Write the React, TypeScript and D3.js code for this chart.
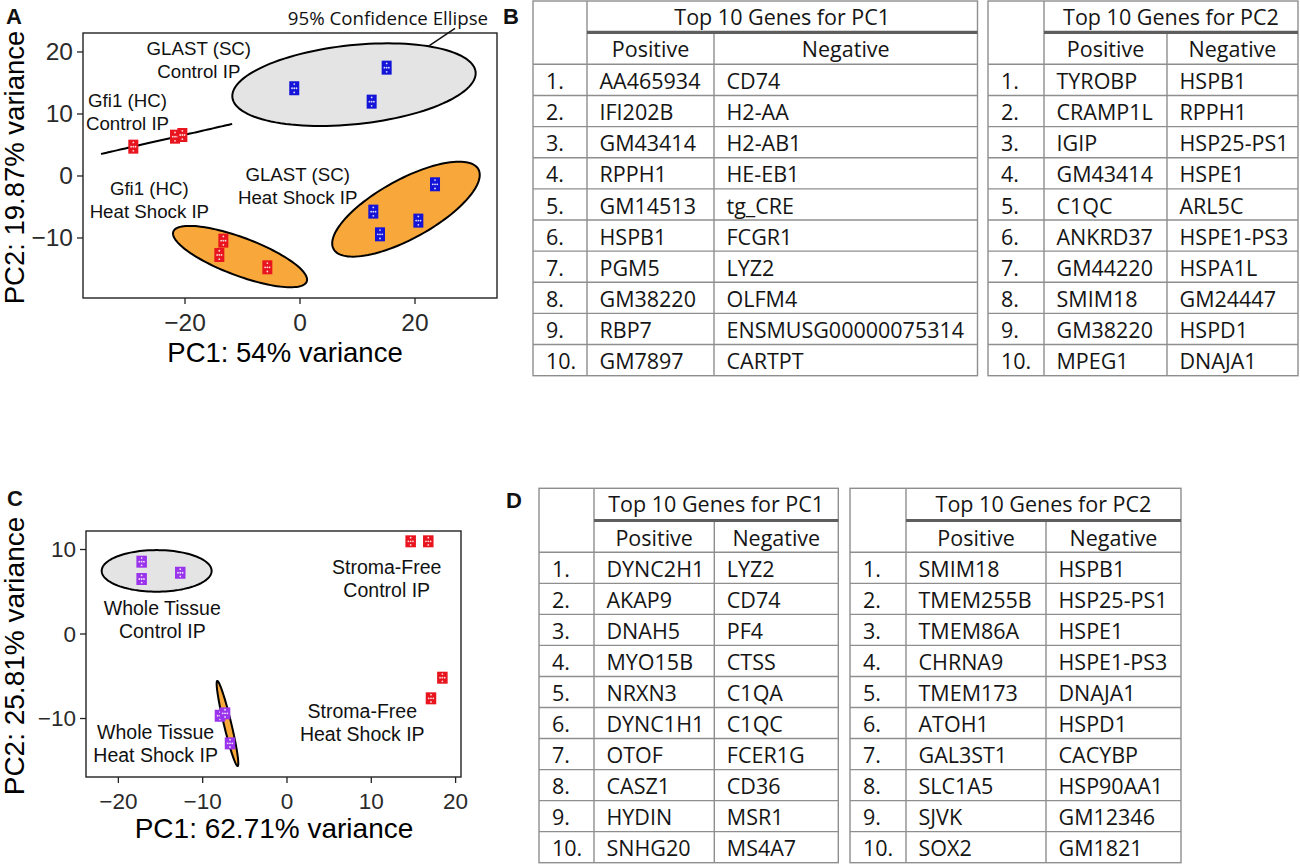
import React from "react";
import * as d3 from "d3";

// ---------- Panel A: PCA scores ----------
const pointsA = [
  { pc1: -1.0, pc2: 14.15, group: "glastCtrl" },
  { pc1: 15.07, pc2: 17.47, group: "glastCtrl" },
  { pc1: 12.46, pc2: 11.99, group: "glastCtrl" },
  { pc1: -28.99, pc2: 4.73, group: "gfiCtrl" },
  { pc1: -21.74, pc2: 6.34, group: "gfiCtrl" },
  { pc1: -20.46, pc2: 6.61, group: "gfiCtrl" },
  { pc1: -13.33, pc2: -10.43, group: "gfiHeat" },
  { pc1: -14.03, pc2: -12.74, group: "gfiHeat" },
  { pc1: -5.68, pc2: -14.73, group: "gfiHeat" },
  { pc1: 23.48, pc2: -1.34, group: "glastHeat" },
  { pc1: 12.75, pc2: -5.75, group: "glastHeat" },
  { pc1: 20.58, pc2: -7.2, group: "glastHeat" },
  { pc1: 13.91, pc2: -9.41, group: "glastHeat" },
];

// 95% confidence ellipses: centre + two semi-axis vectors, in data units
const ellipsesA = [
  { cx: 9.39, cy: 14.73, ax: 21.15, ay: 2.05, bx: 0.72, by: -6.34, kind: "control" },
  { cx: 18.43, cy: -5.35, ax: 12.59, ay: 6.44, bx: 2.47, by: -4.15, kind: "heat" },
  { cx: -10.43, cy: -13.0, ax: 11.6, ay: -4.03, bx: -1.16, by: -2.87, kind: "heat" },
  { cx: -23.2, cy: 5.97, ax: 11.4, ay: 2.42, bx: 0, by: 0, kind: "line" },
];

const labelsA = [
  { x: -17.6, y: 20.5, lines: ["GLAST (SC)", "Control IP"] },
  { x: -30.0, y: 12.1, lines: ["Gfi1 (HC)", "Control IP"] },
  { x: -26.2, y: -2.1, lines: ["Gfi1 (HC)", "Heat Shock IP"] },
  { x: -0.4, y: 0.16, lines: ["GLAST (SC)", "Heat Shock IP"] },
];

const xTicksA = [-20, 0, 20];
const yTicksA = [-10, 0, 10, 20];

// ---------- Panel C ----------
const pointsC = [
  { pc1: -17.24, pc2: 8.56, group: "wtCtrl" },
  { pc1: -17.24, pc2: 6.51, group: "wtCtrl" },
  { pc1: -12.66, pc2: 7.25, group: "wtCtrl" },
  { pc1: -7.95, pc2: -9.67, group: "wtHeat" },
  { pc1: -7.35, pc2: -9.39, group: "wtHeat" },
  { pc1: -6.76, pc2: -12.94, group: "wtHeat" },
  { pc1: 14.67, pc2: 10.97, group: "sfCtrl" },
  { pc1: 16.76, pc2: 10.97, group: "sfCtrl" },
  { pc1: 18.43, pc2: -5.17, group: "sfHeat" },
  { pc1: 17.08, pc2: -7.61, group: "sfHeat" },
];

const ellipsesC = [
  { cx: -15.46, cy: 7.47, ax: 6.52, ay: 0, bx: 0, by: 2.46, kind: "control" },
  { cx: -7.06, cy: -10.59, ax: 1.21, ay: -5.03, bx: 0.43, by: 0.1, kind: "heat" },
];

const labelsC = [
  { x: 11.83, y: 7.89, lines: ["Stroma-Free", "Control IP"] },
  { x: -14.79, y: 3.04, lines: ["Whole Tissue", "Control IP"] },
  { x: -15.58, y: -11.63, lines: ["Whole Tissue", "Heat Shock IP"] },
  { x: 8.93, y: -9.08, lines: ["Stroma-Free", "Heat Shock IP"] },
];

const xTicksC = [-20, -10, 0, 10, 20];
const yTicksC = [-10, 0, 10];

// ---------- Tables ----------
const rankLabels = ["1.", "2.", "3.", "4.", "5.", "6.", "7.", "8.", "9.", "10."];

const b1Positive = ["AA465934", "IFI202B", "GM43414", "RPPH1", "GM14513", "HSPB1", "PGM5", "GM38220", "RBP7", "GM7897"];
const b1Negative = ["CD74", "H2-AA", "H2-AB1", "HE-EB1", "tg_CRE", "FCGR1", "LYZ2", "OLFM4", "ENSMUSG00000075314", "CARTPT"];
const b2Positive = ["TYROBP", "CRAMP1L", "IGIP", "GM43414", "C1QC", "ANKRD37", "GM44220", "SMIM18", "GM38220", "MPEG1"];
const b2Negative = ["HSPB1", "RPPH1", "HSP25-PS1", "HSPE1", "ARL5C", "HSPE1-PS3", "HSPA1L", "GM24447", "HSPD1", "DNAJA1"];

const d1Positive = ["DYNC2H1", "AKAP9", "DNAH5", "MYO15B", "NRXN3", "DYNC1H1", "OTOF", "CASZ1", "HYDIN", "SNHG20"];
const d1Negative = ["LYZ2", "CD74", "PF4", "CTSS", "C1QA", "C1QC", "FCER1G", "CD36", "MSR1", "MS4A7"];
const d2Positive = ["SMIM18", "TMEM255B", "TMEM86A", "CHRNA9", "TMEM173", "ATOH1", "GAL3ST1", "SLC1A5", "SJVK", "SOX2"];
const d2Negative = ["HSPB1", "HSP25-PS1", "HSPE1", "HSPE1-PS3", "DNAJA1", "HSPD1", "CACYBP", "HSP90AA1", "GM12346", "GM1821"];

// ---------- styling ----------
const groupColor: Record<string, string> = {
  glastCtrl: "#1414d8",
  glastHeat: "#1414d8",
  gfiCtrl: "#e8141e",
  gfiHeat: "#e8141e",
  sfCtrl: "#e8141e",
  sfHeat: "#e8141e",
  wtCtrl: "#9a33ec",
  wtHeat: "#9a33ec",
};
const ellipseFill: Record<string, string> = {
  control: "#e4e4e4",
  heat: "#f8a83a",
  line: "none",
};

const plotFont = "'Liberation Sans', Arial, sans-serif";
const tableFont = "'Open Sans', 'Noto Sans', sans-serif";
const fmt = d3.format("d");

function ellipsePath(e: any, x: any, y: any) {
  const line = d3
    .line<number>()
    .x((t) => x(e.cx + Math.cos(t) * e.ax + Math.sin(t) * e.bx))
    .y((t) => y(e.cy + Math.cos(t) * e.ay + Math.sin(t) * e.by))
    .curve(d3.curveLinearClosed);
  return line(d3.range(0, 2 * Math.PI, Math.PI / 60)) || "";
}

function Marker({ cx, cy, w, h, color }: any) {
  const dots = [
    [0, -0.3],
    [-0.22, 0],
    [0.22, 0],
    [0, 0.3],
    [0, 0],
  ];
  return (
    <g>
      <rect x={cx - w / 2} y={cy - h / 2} width={w} height={h} fill={color} />
      {dots.map((d, i) => (
        <circle key={i} cx={cx + d[0] * w} cy={cy + d[1] * h} r={0.9} fill="#fff" opacity={0.85} />
      ))}
    </g>
  );
}

function Scatter(props: any) {
  const { points, ellipses, labels, xDomain, yDomain, box, xTicks, yTicks, xTitle, yTitle, tickSize, titleSize, labelSize, lineGap, markW, markH, titleX, titleY, yTitleX } = props;
  const x = d3.scaleLinear().domain(xDomain).range([box.left, box.right]);
  const y = d3.scaleLinear().domain(yDomain).range([box.bottom, box.top]);
  return (
    <g>
      {ellipses.map((e: any, i: number) => (
        <path key={i} d={ellipsePath(e, x, y)} fill={ellipseFill[e.kind]} stroke="#000" strokeWidth={2} />
      ))}
      {points.map((p: any, i: number) => (
        <Marker key={i} cx={x(p.pc1)} cy={y(p.pc2)} w={markW} h={markH} color={groupColor[p.group]} />
      ))}
      {labels.map((l: any, i: number) => (
        <text key={i} fontFamily={plotFont} fontSize={labelSize} textAnchor="middle" fill="#111">
          {l.lines.map((s: string, j: number) => (
            <tspan key={j} x={x(l.x)} y={y(l.y) + j * lineGap} dominantBaseline="central">
              {s}
            </tspan>
          ))}
        </text>
      ))}
      <rect x={box.left} y={box.top} width={box.right - box.left} height={box.bottom - box.top} fill="none" stroke="#222" strokeWidth={1.4} />
      {xTicks.map((t: number) => (
        <g key={"x" + t}>
          <line x1={x(t)} x2={x(t)} y1={box.bottom} y2={box.bottom + 6} stroke="#222" strokeWidth={1.3} />
          <text x={x(t)} y={box.bottom + 24} textAnchor="middle" dominantBaseline="central" fontFamily={plotFont} fontSize={tickSize} fill="#2a2a2a">
            {fmt(t)}
          </text>
        </g>
      ))}
      {yTicks.map((t: number) => (
        <g key={"y" + t}>
          <line x1={box.left - 6} x2={box.left} y1={y(t)} y2={y(t)} stroke="#222" strokeWidth={1.3} />
          <text x={box.left - 10} y={y(t)} textAnchor="end" dominantBaseline="central" fontFamily={plotFont} fontSize={tickSize} fill="#2a2a2a">
            {fmt(t)}
          </text>
        </g>
      ))}
      <text x={titleX} y={titleY} textAnchor="middle" fontFamily={plotFont} fontSize={titleSize} fill="#000">
        {xTitle}
      </text>
      {/* rotated title: baseline sits at yTitleX, ascenders point left */}
      <text
        transform={`translate(${yTitleX},${(box.top + box.bottom) / 2 + 2}) rotate(-90)`}
        textAnchor="middle"
        fontFamily={plotFont}
        fontSize={titleSize}
        fill="#000"
      >
        {yTitle}
      </text>
    </g>
  );
}

function GeneTable(props: any) {
  const { L, title, pos, neg } = props;
  const rows = d3.range(rankLabels.length);
  const rowY = (i: number) => L.head + i * L.rowH;
  const bottom = rowY(rankLabels.length);
  const grid = "#8e8e8e";
  const fs = 21.5;
  return (
    <g fontFamily={tableFont} fontSize={fs} fill="#151515">
      {/* outer border */}
      <rect x={L.left} y={L.top} width={L.right - L.left} height={bottom - L.top} fill="none" stroke={grid} strokeWidth={1.4} />
      {/* row separators */}
      {rows.map((i) => (
        <line key={i} x1={L.left} x2={L.right} y1={rowY(i)} y2={rowY(i)} stroke={grid} strokeWidth={1.4} />
      ))}
      <line x1={L.c1} x2={L.c1} y1={L.top} y2={bottom} stroke={grid} strokeWidth={1.4} />
      <line x1={L.c2} x2={L.c2} y1={L.mid} y2={bottom} stroke={grid} strokeWidth={1.4} />
      <line x1={L.c1} x2={L.right} y1={L.mid} y2={L.mid} stroke="#5e5e5e" strokeWidth={3.2} />
      <text x={(L.c1 + L.right) / 2} y={L.top + 24} textAnchor="middle">
        {title}
      </text>
      <text x={(L.c1 + L.c2) / 2} y={L.mid + 25} textAnchor="middle">
        Positive
      </text>
      <text x={(L.c2 + L.right) / 2} y={L.mid + 25} textAnchor="middle">
        Negative
      </text>
      {rows.map((i) => (
        <g key={"r" + i}>
          <text x={L.left + 13} y={rowY(i) + 24.7}>
            {rankLabels[i]}
          </text>
          <text x={L.c1 + 12.5} y={rowY(i) + 24.7}>
            {pos[i]}
          </text>
          <text x={L.c2 + 12.5} y={rowY(i) + 24.7}>
            {neg[i]}
          </text>
        </g>
      ))}
    </g>
  );
}

const App: React.FC = () => {
  const boxA = { left: 83, right: 497, top: 33, bottom: 298 };
  const boxC = { left: 86, right: 461, top: 531, bottom: 777 };
  const xA = d3.scaleLinear().domain([-37.74, 34.26]).range([boxA.left, boxA.right]);
  const yA = d3.scaleLinear().domain([-19.68, 23.06]).range([boxA.bottom, boxA.top]);

  const layB = { top: 1, mid: 32.3, head: 64.3, rowH: 31.14 };
  const layD = { top: 488.3, mid: 520.5, head: 552.3, rowH: 31.04 };

  return (
    <svg width={1300} height={864} style={{ position: "absolute", left: 0, top: 0, background: "#fff" }}>
      <rect width={1300} height={864} fill="#fff" />
      {/* panel letters */}
      <g fontFamily={plotFont} fontWeight="bold" fontSize={22} fill="#111">
        <text x={6} y={24}>A</text>
        <text x={503} y={24}>B</text>
        <text x={7} y={506}>C</text>
        <text x={506} y={508}>D</text>
      </g>

      <Scatter
        points={pointsA}
        ellipses={ellipsesA}
        labels={labelsA}
        xDomain={[-37.74, 34.26]}
        yDomain={[-19.68, 23.06]}
        box={boxA}
        xTicks={xTicksA}
        yTicks={yTicksA}
        xTitle="PC1: 54% variance"
        yTitle="PC2: 19.87% variance"
        tickSize={24.5}
        titleSize={27.5}
        labelSize={18.7}
        lineGap={22.5}
        markW={10}
        markH={14}
        titleX={285}
        titleY={361.5}
        yTitleX={24}
      />
      {/* 95% confidence ellipse call-out */}
      <line x1={xA(26.96)} y1={yA(23.82)} x2={xA(22.43)} y2={yA(20.97)} stroke="#111" strokeWidth={1.5} />
      <text x={xA(15.3)} y={yA(24.35)} textAnchor="middle" fontFamily={tableFont} fontSize={18.7} fill="#111">
        95% Confidence Ellipse
      </text>

      <Scatter
        points={pointsC}
        ellipses={ellipsesC}
        labels={labelsC}
        xDomain={[-23.84, 20.64]}
        yDomain={[-16.92, 12.19]}
        box={boxC}
        xTicks={xTicksC}
        yTicks={yTicksC}
        xTitle="PC1: 62.71% variance"
        yTitle="PC2: 25.81% variance"
        tickSize={22.5}
        titleSize={28}
        labelSize={19.5}
        lineGap={22.8}
        markW={10.5}
        markH={12}
        titleX={274}
        titleY={838.3}
        yTitleX={24}
      />

      <GeneTable L={{ ...layB, left: 533, c1: 587, c2: 714, right: 977.5 }} title="Top 10 Genes for PC1" pos={b1Positive} neg={b1Negative} />
      <GeneTable L={{ ...layB, left: 988, c1: 1044, c2: 1167, right: 1298 }} title="Top 10 Genes for PC2" pos={b2Positive} neg={b2Negative} />
      <GeneTable L={{ ...layD, left: 539, c1: 594, c2: 714.3, right: 838.3 }} title="Top 10 Genes for PC1" pos={d1Positive} neg={d1Negative} />
      <GeneTable L={{ ...layD, left: 850, c1: 906, c2: 1046, right: 1181 }} title="Top 10 Genes for PC2" pos={d2Positive} neg={d2Negative} />
    </svg>
  );
};

export default App;
